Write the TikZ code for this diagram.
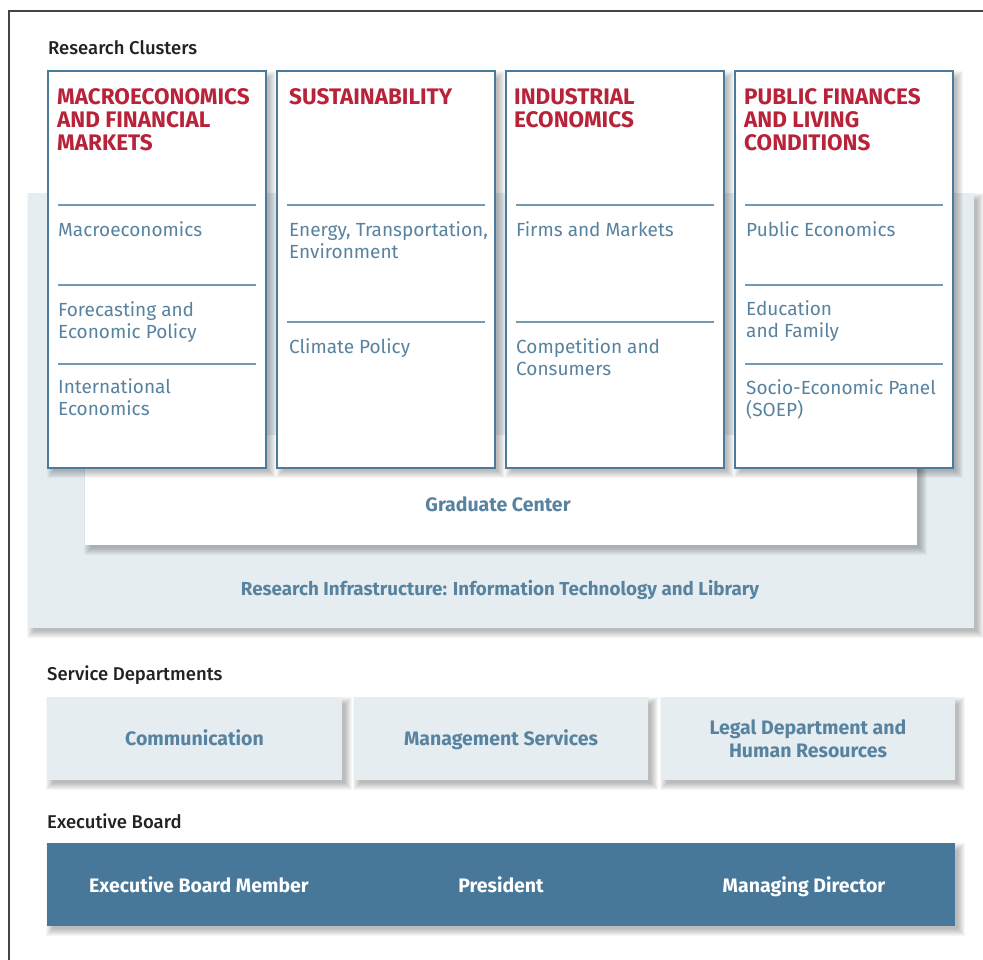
\documentclass[tikz,border=0pt]{standalone}
\usepackage{fontspec}
\setmainfont{Fira Sans}
\IfFontExistsTF{Fira Sans Medium}{\newfontfamily\medfont{Fira Sans Medium}}{\newfontfamily\medfont{Fira Sans}[FakeBold=1.2]}
\definecolor{steel}{HTML}{4B7A9A}
\definecolor{divc}{HTML}{7399B3}
\definecolor{itemc}{HTML}{5883A0}
\definecolor{titlered}{HTML}{B8233A}
\definecolor{lightbg}{HTML}{E5EDF1}
\definecolor{execc}{HTML}{47789A}
\definecolor{headc}{HTML}{222222}
\definecolor{framec}{HTML}{444444}
\tikzset{
  shadowlayer/.style={fill=black, opacity=0.035},
  plainbox/.style={anchor=north west, inner sep=0pt, outer sep=0pt},
  cluster/.style={plainbox, draw=steel, line width=2.4pt, fill=white},
  divline/.style={draw=divc, line width=2pt},
  ctitle/.style={anchor=base west, inner sep=0pt, align=left, text=titlered, font=\bfseries\fontsize{22.5}{23}\selectfont},
  citem/.style={anchor=base west, inner sep=0pt, align=left, text=itemc, font=\fontsize{19}{22}\selectfont},
  header/.style={anchor=base west, inner sep=0pt, text=headc, font=\medfont\fontsize{18.5}{20}\selectfont},
  boxlabel/.style={anchor=base, inner sep=0pt, align=center, text=itemc, font=\bfseries\fontsize{19.5}{23}\selectfont},
  svc/.style={plainbox, fill=lightbg},
  execlabel/.style={anchor=base, inner sep=0pt, text=white, font=\bfseries\fontsize{19.5}{22}\selectfont}
}
% soft drop shadow: x1 y1 x2 y2 (top-left, bottom-right)
\newcommand\softshadow[4]{%
  \foreach \k in {0,...,7}{%
    \fill[shadowlayer] (#1+6-\k,#2+7-\k) rectangle (#3+3+\k,#4+3+\k);
  }%
}
\begin{document}
\begin{tikzpicture}[x=1pt,y=-1pt]
\useasboundingbox (0,0) rectangle (983,960);
\fill[white] (0,0) rectangle (983,960);
\draw[framec, line width=1.3pt] (9,960) -- (9,11) -- (983,11);

% headers
\node[header] (hrc) at (48,55) {Research Clusters};
\node[header] (hsd) at (47,680) {Service Departments};
\node[header] (heb) at (47,828) {Executive Board};

% research infrastructure background
\softshadow{28}{193}{974}{628}
\node[svc, minimum width=946pt, minimum height=435pt] (infra) at (28,193) {};
\node[boxlabel, font=\bfseries\fontsize{18.8}{23}\selectfont] (infral) at (500,595) {Research Infrastructure: Information Technology and Library};

% graduate center
\softshadow{85}{435}{917}{545}
\node[plainbox, fill=white, minimum width=832pt, minimum height=110pt] (grad) at (85,435) {};
\node[boxlabel] (gradl) at (498,511) {Graduate Center};

% clusters
\softshadow{48}{71}{266}{468}
\softshadow{277}{71}{495}{468}
\softshadow{506}{71}{724}{468}
\softshadow{735}{71}{953}{468}
\node[cluster, minimum width=218pt, minimum height=397pt] (c1) at (48,71) {};
\node[cluster, minimum width=218pt, minimum height=397pt] (c2) at (277,71) {};
\node[cluster, minimum width=218pt, minimum height=397pt] (c3) at (506,71) {};
\node[cluster, minimum width=218pt, minimum height=397pt] (c4) at (735,71) {};

% cluster 1 (anchor = baseline of last line)
\node[ctitle] (t1) at (57,151) {MACROECONOMICS\\AND FINANCIAL\\MARKETS};
\draw[divline] (58,205) -- (256,205);
\draw[divline] (58,285) -- (256,285);
\draw[divline] (58,364) -- (256,364);
\node[citem] (i11) at (58,237) {Macroeconomics};
\node[citem] (i12) at (58,338) {Forecasting and\\Economic Policy};
\node[citem] (i13) at (58,415) {International\\Economics};

% cluster 2
\node[ctitle] (t2) at (289,105) {SUSTAINABILITY};
\draw[divline] (287,205) -- (485,205);
\draw[divline] (287,322) -- (485,322);
\node[citem] (i21) at (289,259) {Energy, Transportation,\\Environment};
\node[citem] (i22) at (289,353) {Climate Policy};

% cluster 3
\node[ctitle] (t3) at (514,128) {INDUSTRIAL\\ECONOMICS};
\draw[divline] (516,205) -- (714,205);
\draw[divline] (516,322) -- (714,322);
\node[citem] (i31) at (516,237) {Firms and Markets};
\node[citem] (i32) at (516,375) {Competition and\\Consumers};

% cluster 4
\node[ctitle] (t4) at (744,151) {PUBLIC FINANCES\\AND LIVING\\CONDITIONS};
\draw[divline] (745,205) -- (943,205);
\draw[divline] (745,285) -- (943,285);
\draw[divline] (745,364) -- (943,364);
\node[citem] (i41) at (746,237) {Public Economics};
\node[citem] (i42) at (746,337) {Education\\and Family};
\node[citem] (i43) at (746,416) {Socio-Economic Panel\\(SOEP)};

% service departments
\softshadow{47}{697}{342}{780}
\softshadow{354}{697}{648}{780}
\softshadow{661}{697}{955}{780}
\node[svc, minimum width=295pt, minimum height=83pt] (s1) at (47,697) {};
\node[svc, minimum width=294pt, minimum height=83pt] (s2) at (354,697) {};
\node[svc, minimum width=294pt, minimum height=83pt] (s3) at (661,697) {};
\node[boxlabel] (s1l) at (194.5,745) {Communication};
\node[boxlabel] (s2l) at (501,745) {Management Services};
\node[boxlabel] (s3l) at (808,757) {Legal Department and\\Human Resources};

% executive board
\softshadow{47}{843}{955}{926}
\node[plainbox, fill=execc, minimum width=908pt, minimum height=83pt] (eb) at (47,843) {};
\node[execlabel] (e1) at (199,892) {Executive Board Member};
\node[execlabel] (e2) at (501,892) {President};
\node[execlabel] (e3) at (804,892) {Managing Director};
\end{tikzpicture}
\end{document}
